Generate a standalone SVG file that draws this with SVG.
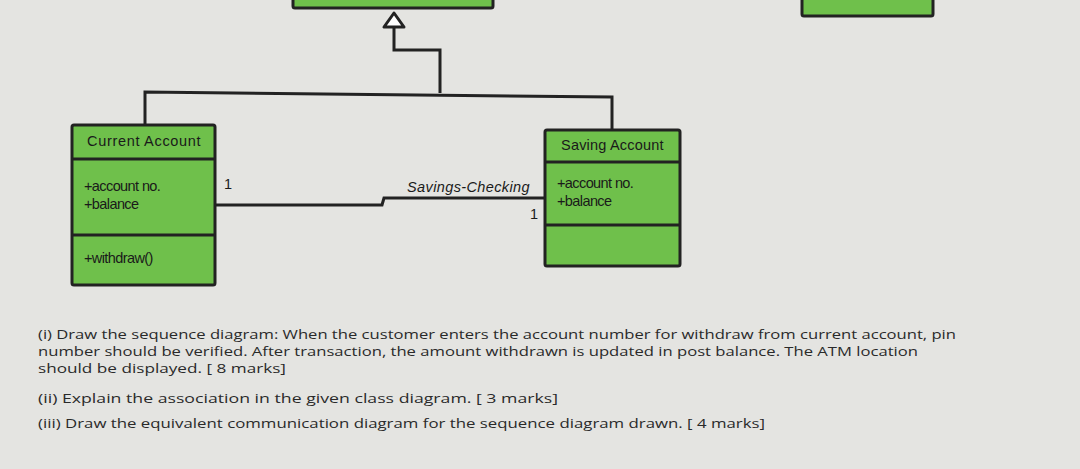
<svg xmlns="http://www.w3.org/2000/svg" width="1080" height="469" viewBox="0 0 1080 469">
<style>
.box{fill:#6fc04b;stroke:#222;stroke-width:3}
.ln{fill:none;stroke:#222;stroke-width:3}
.t{font-family:"Liberation Sans",Arial,sans-serif;font-size:14.5px;fill:#1a1a1a;letter-spacing:-0.6px}
.q{font-family:"Open Sans",sans-serif;font-size:13px;fill:#2a2a2a}
</style>
<rect width="1080" height="469" fill="#e4e4e1"/>
<g id="top-class"><rect class="box" x="293" y="-10" width="200" height="18" rx="2"/></g>
<g id="top-right-class"><rect class="box" x="802" y="-10" width="131" height="26" rx="2"/></g>
<g id="current-account">
<rect class="box" x="72" y="125" width="143" height="160" rx="2"/>
<line class="ln" x1="72" y1="159" x2="215" y2="159"/>
<line class="ln" x1="72" y1="235" x2="215" y2="235"/>
<text class="t" x="87" y="146" textLength="113">Current Account</text>
<text class="t" x="84" y="191">+account no.</text>
<text class="t" x="84" y="209">+balance</text>
<text class="t" x="84" y="263">+withdraw()</text>
</g>
<g id="saving-account">
<rect class="box" x="545" y="130" width="135" height="136" rx="2"/>
<line class="ln" x1="545" y1="162" x2="680" y2="162"/>
<line class="ln" x1="545" y1="225" x2="680" y2="225"/>
<text class="t" x="561" y="150" textLength="102">Saving Account</text>
<text class="t" x="557" y="188">+account no.</text>
<text class="t" x="557" y="206">+balance</text>
</g>
<g id="connectors">
<polygon points="394,13 384,27 404,27" fill="#fff" stroke="#222" stroke-width="3" stroke-linejoin="round"/>
<polyline class="ln" points="394,27 394,50 440,50 440,93"/>
<polyline class="ln" points="145,125 145,92 612,97 612,130"/>
<polyline class="ln" points="215,205 382,205 384,198 545,198"/>
<text class="t" x="224" y="189">1</text>
<text class="t" x="407" y="192" font-style="italic" textLength="122">Savings-Checking</text>
<text class="t" x="530" y="219">1</text>
</g>
<g id="questions">
<text class="q" x="38" y="339" textLength="918" lengthAdjust="spacingAndGlyphs">(i) Draw the sequence diagram:   When the customer enters the account number for withdraw from current account, pin</text>
<text class="q" x="38" y="356" textLength="880" lengthAdjust="spacingAndGlyphs">number should be verified. After transaction, the amount withdrawn is updated in post balance. The ATM location</text>
<text class="q" x="38" y="373" textLength="248" lengthAdjust="spacingAndGlyphs">should be displayed. [ 8 marks]</text>
<text class="q" x="38" y="403" textLength="520" lengthAdjust="spacingAndGlyphs">(ii) Explain the association in the given class diagram. [ 3 marks]</text>
<text class="q" x="38" y="428" textLength="727" lengthAdjust="spacingAndGlyphs">(iii) Draw the equivalent communication diagram for the sequence diagram drawn. [ 4 marks]</text>
</g>
</svg>
